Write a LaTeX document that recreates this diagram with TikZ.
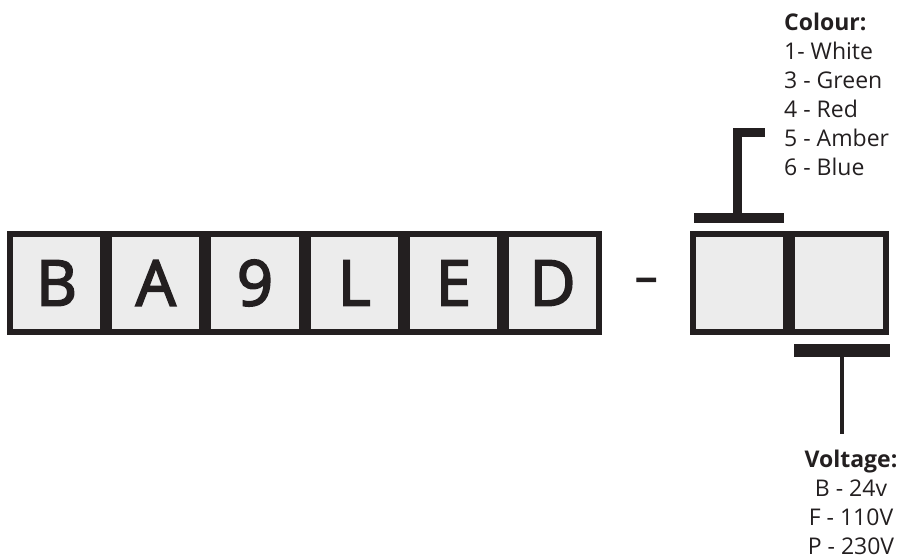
\documentclass[tikz,border=0pt]{standalone}
\usepackage{fontspec}
\setmainfont{Open Sans}
\newfontfamily\cellfont{Open Sans}[RawFeature={embolden=3}]
\usetikzlibrary{positioning}
\definecolor{ink}{RGB}{35,31,32}
\definecolor{cellfill}{RGB}{236,236,236}

\begin{document}
\begin{tikzpicture}[x=1pt, y=1pt,
  cell/.style={rectangle, draw=ink, fill=cellfill, line width=6pt,
               minimum width=93.2pt, minimum height=98pt, inner sep=0pt,
               text=ink, font=\cellfont\fontsize{63}{63}\selectfont},
  gap/.style={rectangle, minimum width=88pt, minimum height=104pt,
              inner sep=0pt, outer sep=0pt, text=ink,
              font=\cellfont\fontsize{44}{44}\selectfont},
  legend/.style={inner sep=0pt, text=ink, font=\fontsize{23}{29}\selectfont},
  stem/.style={draw=ink, line width=9pt},
  bar/.style={draw=ink, line width=10pt}
]
\useasboundingbox (0,0) rectangle (903,559);
\node[cell, anchor=west] (b) at (7,276) {B};
\node[cell, right=0pt of b]  (a)    {A};
\node[cell, right=0pt of a]  (nine) {9};
\node[cell, right=0pt of nine] (l)  {L};
\node[cell, right=0pt of l]  (e)    {E};
\node[cell, right=0pt of e]  (d)    {D};
\node[gap,  right=0pt of d, yshift=-2pt] (dash) {–};
\node[cell, right=0pt of dash, yshift=2pt] (c1) {};
\node[cell, right=0pt of c1] (c2)   {};

\coordinate (hook) at ([xshift=25pt, yshift=98.5pt]c1.north);
\draw[bar] ([xshift=4pt, yshift=13pt]c1.north west) -- ([xshift=-5pt, yshift=13pt]c1.north east);
\draw[stem] ([xshift=-2pt, yshift=13pt]c1.north) |- (hook);

\coordinate (tail) at ([xshift=3pt, yshift=-99pt]c2.south);
\draw[draw=ink, line width=13pt] ([xshift=5pt, yshift=-15.5pt]c2.south west) -- ([xshift=1pt, yshift=-15.5pt]c2.south east);
\draw[draw=ink, line width=4pt] ([xshift=3pt, yshift=-15.5pt]c2.south) -- (tail);

\node[legend, align=left, anchor=north west] (colour) at (784,546.5)
  {\textbf{Colour:}\\1- White\\3 - Green\\4 - Red\\5 - Amber\\6 - Blue};
\node[legend, align=center, anchor=north] (voltage) at (851,109)
  {\textbf{Voltage:}\\B - 24v\\F - 110V\\P - 230V};
\end{tikzpicture}
\end{document}
